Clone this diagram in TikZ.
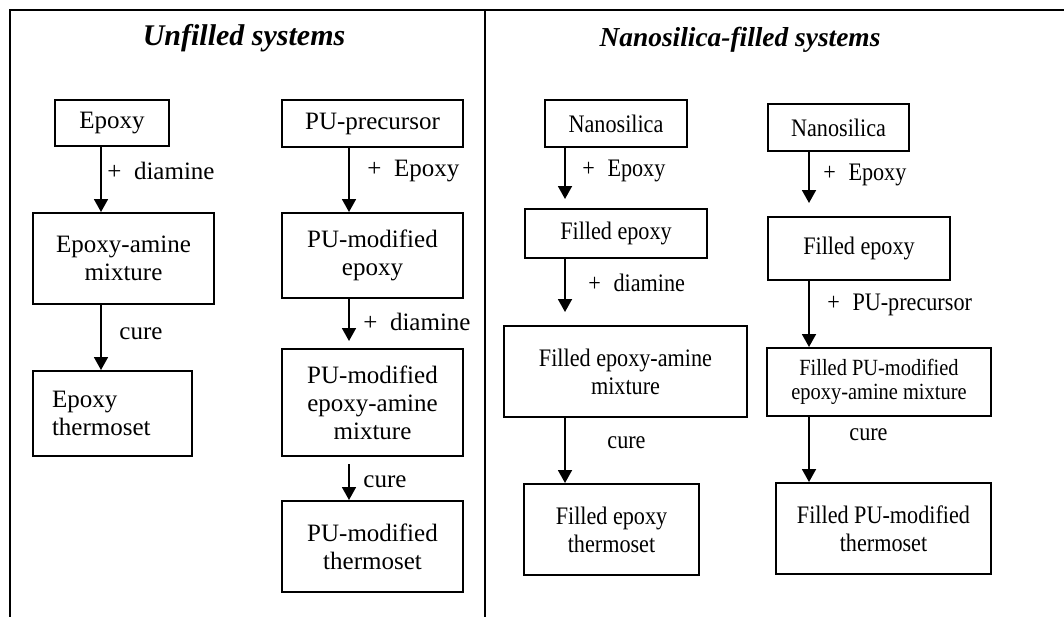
\documentclass[tikz,border=0pt]{standalone}
\usepackage{fontspec}
\setmainfont{Liberation Serif}
\newfontfamily\narrowfont{Liberation Serif}[FakeStretch=0.88]
\usetikzlibrary{arrows.meta}
\tikzset{
  box/.style={draw, line width=1pt, align=center, inner sep=2pt, font=\fontsize{12.5}{14}\selectfont},
  nbox/.style={box, font=\narrowfont\fontsize{12.6}{14}\selectfont},
  arrow/.style={-{Triangle[length=6.5pt, width=7pt]}, line width=0.9pt},
  title/.style={font=\fontsize{#1}{16}\selectfont\bfseries\itshape},
  title/.default=13.5,
  note/.style={font=\fontsize{12.5}{14}\selectfont, anchor=west, inner sep=0pt},
  nnote/.style={note, font=\narrowfont\fontsize{12.6}{14}\selectfont},
  frame/.style={line width=1.1pt},
}

\begin{document}
\begin{tikzpicture}[x=0.5pt, y=-0.5pt]
  \useasboundingbox (0,0) rectangle (1064,617);
  % frame
  \draw[frame] (1064,10) -- (10,10) -- (10,617);
  \draw[frame] (485,10) -- (485,617);
  % headers
  \node[title=15] (hdA) at (244,38) {Unfilled systems};
  \node[title=13.7] (hdB) at (740,40) {Nanosilica-filled systems};
  % boxes: name / x / y / width / height / text
  \foreach \n/\x/\y/\w/\h/\t in {
      epoxy/112/123/57pt/23pt/Epoxy,
      epam/123.5/258.5/90.5pt/45.5pt/{Epoxy-amine\\ mixture},
      pupre/372.5/123.5/90.5pt/23.5pt/PU-precursor,
      pumod/372.5/255.5/90.5pt/42.5pt/{PU-modified\\ epoxy},
      pumix/372.5/402.5/90.5pt/53.5pt/{PU-modified\\ epoxy-amine\\ mixture},
      puth/372.5/546.5/90.5pt/45.5pt/{PU-modified\\ thermoset}}
    \node[box, minimum width=\w, minimum height=\h] (\n) at (\x,\y) {\t};
  \node[box, minimum height=42.5pt, align=left, text width=60.5pt, inner xsep=9.5pt] (epth) at (112.5,413.5) {Epoxy\\ thermoset};
  \foreach \n/\x/\y/\w/\h/\t in {
      nanoA/616/123.5/71pt/23.5pt/Nanosilica,
      fepA/616/233.5/91pt/24.5pt/{Filled epoxy},
      fepam/625.5/371.5/121.5pt/45.5pt/{Filled epoxy-amine\\ mixture},
      fepth/611.5/529.5/87.5pt/45.5pt/{Filled epoxy\\ thermoset},
      nanoB/838.5/127.5/70.5pt/23.5pt/Nanosilica,
      fepB/859/248.5/91pt/31.5pt/{Filled epoxy},
      fputh/883.5/528.5/107.5pt/45.5pt/{Filled PU-modified\\ thermoset}}
    \node[nbox, minimum width=\w, minimum height=\h] (\n) at (\x,\y) {\t};
  \node[box, minimum width=112pt, minimum height=34pt, font=\narrowfont\fontsize{11.6}{12}\selectfont] (fpumix) at (879,382) {Filled PU-modified\\ epoxy-amine mixture};
  % arrow columns
  \coordinate (colA) at (101,0);
  \coordinate (colB) at (349,0);
  \coordinate (colC) at (565,0);
  \coordinate (colD) at (809,0);
  \foreach \a/\b/\c/\s/\e in {epoxy/epam/colA/0pt/0pt, epam/epth/colA/0pt/0pt,
      pupre/pumod/colB/0pt/0pt, pumod/pumix/colB/0pt/3.5pt, pumix/puth/colB/3.5pt/0pt,
      nanoA/fepA/colC/0pt/4.5pt, fepA/fepam/colC/0pt/6.5pt, fepam/fepth/colC/0pt/0pt,
      nanoB/fepB/colD/0pt/6.5pt, fepB/fpumix/colD/0pt/0pt, fpumix/fputh/colD/0pt/0pt}
    \draw[arrow, shorten <=\s, shorten >=\e] (\a.south -| \c) -- (\b.north -| \c);
  % step labels
  \foreach \x/\y/\t [count=\i] in {107/171/{+\enspace diamine}, 119/334/cure,
      367/171/{+\enspace Epoxy}, 363/322/{+\enspace diamine}, 363/482/cure}
    \node[note] (lbl\i) at (\x,\y) {\t};
  \foreach \x/\y/\t [count=\i] in {582/171/{+\enspace Epoxy}, 588/283/{+\enspace diamine}, 607/443/cure,
      823/175/{+\enspace Epoxy}, 827/305/{+\enspace PU-precursor}, 849/435/cure}
    \node[nnote] (nlbl\i) at (\x,\y) {\t};
\end{tikzpicture}
\end{document}
